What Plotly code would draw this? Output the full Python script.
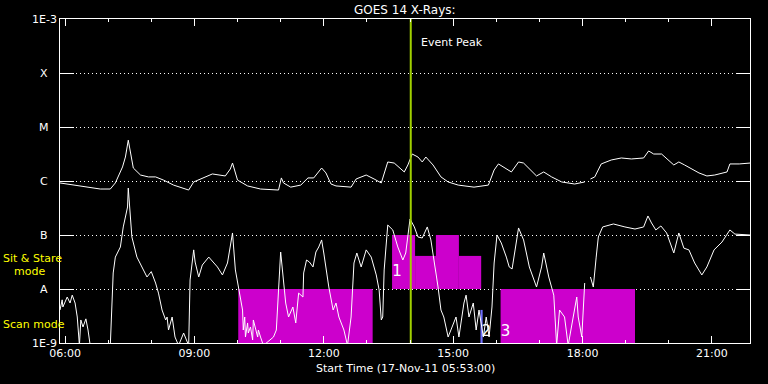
import math
import plotly.graph_objects as go

DAY = "2011-11-17 "

# GOES long channel (1-8 A), W/m^2
long_time = ["05:53", "06:11", "06:49", "07:03", "07:10", "07:20", "07:24", "07:28", "07:31", "07:35",
             "07:45", "07:56", "08:06", "08:17", "08:31", "08:52", "08:59", "09:13", "09:25", "09:43",
             "09:50", "09:53", "10:00", "10:14", "10:32", "10:57", "11:01", "11:04", "11:14", "11:28",
             "11:38", "11:46", "11:52", "11:57", "12:03", "12:10", "12:17", "12:38", "12:45", "12:59",
             "13:10", "13:20", "13:29", "13:38", "13:52", "13:57", "14:03", "14:11", "14:17", "14:22",
             "14:32", "14:43", "14:53", "15:07", "15:29", "15:49", "15:57", "16:03", "16:21", "16:31",
             "16:38", "16:56", "17:06", "17:17", "17:31", "17:49", "18:03", None, "18:11", "18:17",
             "18:26", "18:40", "18:54", "19:08", "19:25", "19:32", "19:39", "19:50", "20:07", "20:14",
             "20:22", "20:42", "20:53", "21:04", "21:21", "21:25", "21:38", "21:53"]
long_flux = [9.2e-7, 8.4e-7, 7.1e-7, 7.1e-7, 9.2e-7, 1.82e-6, 2.78e-6, 5.7e-6, 3.3e-6, 1.74e-6,
             1.29e-6, 1.19e-6, 1.19e-6, 1.04e-6, 8.4e-7, 6.8e-7, 9.6e-7, 1.14e-6, 1.35e-6, 1.24e-6,
             1.67e-6, 2.15e-6, 1.04e-6, 8.1e-7, 7.1e-7, 6.8e-7, 1.14e-6, 9.2e-7, 7.7e-7, 8.4e-7,
             1.14e-6, 1.14e-6, 1.41e-6, 1.74e-6, 1.41e-6, 8.8e-7, 8.1e-7, 7.7e-7, 1.09e-6, 1.29e-6,
             1.09e-6, 9.2e-7, 2.25e-6, 2.15e-6, 1.47e-6, 1.98e-6, 3.16e-6, 2.78e-6, 2.25e-6, 2.78e-6,
             1.98e-6, 1.19e-6, 9.6e-7, 8.4e-7, 7.7e-7, 8.4e-7, 1.6e-6, 2.07e-6, 1.47e-6, 2.25e-6,
             2.15e-6, 1.24e-6, 1.47e-6, 1.19e-6, 9.6e-7, 8.8e-7, 9.6e-7, None, 1.09e-6, 1.19e-6,
             2.07e-6, 2.45e-6, 2.67e-6, 2.56e-6, 2.67e-6, 3.6e-6, 3.16e-6, 3.16e-6, 1.98e-6, 2.25e-6,
             1.98e-6, 1.41e-6, 1.24e-6, 1.29e-6, 1.47e-6, 2.07e-6, 2.07e-6, 2.15e-6]

# GOES short channel (0.5-4 A), W/m^2
short_time = ["05:53", "05:56", "05:57", "06:03", "06:07", "06:10", "06:14", "06:17", "06:20", "06:22",
              "06:25", "06:29", "06:32", "06:35", "07:03", "07:07", "07:10", "07:17", "07:21", "07:27",
              "07:28", "07:31", "07:33", "07:40", "07:49", "07:54", "08:00", "08:06", "08:10", "08:15",
              "08:20", "08:22", "08:24", "08:29", "08:33", "08:38", "08:45", "08:49", "08:52", "08:54",
              "08:59", "09:01", "09:06", "09:11", "09:20", "09:32", "09:39", "09:46", "09:53", "09:57",
              "10:01", "10:07", "10:08", "10:10", "10:11", "10:14", "10:15", "10:18", "10:21", "10:22",
              "10:28", "10:29", "10:32", "10:36", "10:50", "10:54", "11:00", "11:04", "11:07", "11:11",
              "11:17", "11:21", "11:25", "11:31", "11:32", "11:36", "11:40", "11:45", "11:49", "11:53",
              "11:57", "12:00", "12:07", "12:13", "12:17", "12:21", "12:28", "12:33", "12:38", "12:42",
              "12:46", "12:52", "12:59", "13:06", "13:13", "13:17", "13:20", "13:22", "13:24", "13:29",
              "13:36", "13:43", "13:50", "13:54", "14:00", "14:06", "14:11", "14:17", "14:24", "14:29",
              "14:33", "14:39", "14:43", "14:47", "14:53", "14:57", "15:04", "15:08", "15:15", "15:18",
              "15:22", "15:28", "15:32", "15:36", "15:42", "15:46", "15:50", "15:54", "15:57", "16:01",
              "16:07", "16:14", "16:18", "16:22", "16:28", "16:31", "16:38", "16:46", "16:56", "17:03",
              "17:06", "17:13", "17:20", "17:24", "17:28", "17:35", "17:40", "17:47", "17:52", "17:54",
              "17:59", "18:03", None, "18:11", "18:15", "18:19", "18:22", "18:28", "18:43", "18:59",
              "19:13", "19:25", "19:31", "19:36", "19:42", "19:49", "19:57", "20:07", "20:14", "20:21",
              "20:28", "20:36", "20:46", "20:53", "21:03", "21:14", "21:25", "21:32", "21:53"]
short_flux = [4.08e-9, 6.3e-9, 4.64e-9, 7.1e-9, 5.5e-9, 7.7e-9, 5.5e-9, 3.03e-9, 9e-10, 2.67e-9,
              1.98e-9, 2.8e-9, 1.74e-9, 9e-10, 9e-10, 1.98e-8, 3.9e-8, 6.0e-8, 1.41e-7, 3.3e-7,
              7.4e-7, 2.15e-7, 9.2e-8, 3.9e-8, 2.25e-8, 1.67e-8, 2.1e-8, 1.29e-8, 8.4e-9, 4.08e-9,
              2.67e-9, 3.03e-9, 1.74e-9, 3.03e-9, 1.29e-9, 9e-10, 1.53e-9, 1.14e-9, 9e-10, 1.47e-8,
              5.3e-8, 3.16e-8, 1.67e-8, 2.78e-8, 3.9e-8, 2.56e-8, 1.82e-8, 3.03e-8, 1.09e-7, 2.25e-8,
              1.09e-8, 4.08e-9, 1.74e-9, 3.03e-9, 1.29e-9, 2.35e-9, 1.53e-9, 1.98e-9, 1.14e-9, 2.67e-9,
              1.29e-9, 1.74e-9, 1.29e-9, 9e-10, 1.29e-9, 1.74e-9, 4.84e-8, 1.29e-8, 5.5e-9, 3.03e-9,
              4.64e-9, 2.35e-9, 8.4e-9, 7.1e-9, 1.98e-8, 3.44e-8, 3.16e-8, 2.56e-8, 4.84e-8, 6.0e-8,
              8.1e-8, 4.64e-8, 1.09e-8, 4.08e-9, 5.5e-9, 3.03e-9, 1.74e-9, 9e-10, 3.03e-9, 3.03e-8,
              4.64e-8, 2.56e-8, 5.3e-8, 3.9e-8, 1.82e-8, 9.6e-9, 2.67e-9, 3.03e-9, 2.25e-8, 1.53e-7,
              1.24e-7, 6.0e-8, 3.44e-8, 4.64e-8, 1.98e-7, 1.41e-7, 9.2e-8, 8.8e-8, 1.41e-7, 8.1e-8,
              3.9e-8, 1.09e-8, 4.08e-9, 3.03e-9, 1.29e-9, 1.74e-9, 3.03e-9, 1.29e-9, 5.5e-9, 7.7e-9,
              3.03e-9, 5.5e-9, 1.74e-9, 4.08e-9, 1.29e-9, 3.03e-9, 1.29e-9, 4.64e-9, 3.03e-8, 1.0e-7,
              7.1e-8, 3.9e-8, 2.56e-8, 2.35e-8, 7.1e-8, 1.35e-7, 8.1e-8, 2.56e-8, 1.09e-8, 2.56e-8,
              4.64e-8, 1.67e-8, 7.7e-9, 9e-10, 4.08e-9, 3.03e-9, 9e-10, 3.03e-9, 7.1e-9, 3.03e-9,
              1.29e-9, 1.29e-8, None, 1.67e-8, 1.09e-8, 3.9e-8, 9.2e-8, 1.41e-7, 1.6e-7, 1.41e-7,
              1.29e-7, 1.41e-7, 2.25e-7, 1.67e-7, 1.24e-7, 1.47e-7, 1.09e-7, 4.64e-8, 1.09e-7, 5.7e-8,
              5.3e-8, 3.03e-8, 1.82e-8, 2.56e-8, 5.3e-8, 7.4e-8, 1.24e-7, 1.04e-7, 1.0e-7]

# Observation blocks
scan_start = ["10:01", "16:06"]
scan_end = ["13:08", "19:13"]
scan_low = [1e-9, 1e-9]
scan_high = [1e-8, 1e-8]

sit_start = ["13:35", "14:07", "14:36", "15:08"]
sit_end = ["14:07", "14:36", "15:08", "15:39"]
sit_low = [1e-8, 1e-8, 1e-8, 1e-8]
sit_high = [1e-7, 4.1e-8, 1e-7, 4.1e-8]

blue_start = ["15:38"]
blue_end = ["15:41"]
blue_low = [1e-9]
blue_high = [4.1e-9]

block_label_text = ["1", "2", "3"]
block_label_time = ["13:42", "15:46", "16:13"]
block_label_flux = [2.0e-8, 1.6e-9, 1.6e-9]

peak_time = "14:01"

class_vals = [1e-9, 1e-8, 1e-7, 1e-6, 1e-5, 1e-4, 1e-3]
class_text = ["1E-9", "A", "B", "C", "M", "X", "1E-3"]

x_range = ["05:53", "21:53"]

MAGENTA = "#cc00cc"
FONT = "DejaVu Sans"


def ts(t):
    return None if t is None else DAY + t


fig = go.Figure()

def add_rects(starts, ends, lows, highs, color):
    for s, e, lo, hi in zip(starts, ends, lows, highs):
        fig.add_trace(go.Scatter(
            x=[ts(s), ts(e), ts(e), ts(s), ts(s)],
            y=[lo, lo, hi, hi, lo],
            mode="lines", fill="toself", fillcolor=color,
            line=dict(width=0, color=color), hoverinfo="skip", showlegend=False))

add_rects(scan_start, scan_end, scan_low, scan_high, MAGENTA)
add_rects(sit_start, sit_end, sit_low, sit_high, MAGENTA)
add_rects(blue_start, blue_end, blue_low, blue_high, "#6f6fff")

fig.add_trace(go.Scatter(x=[ts(t) for t in long_time], y=long_flux, mode="lines",
                         line=dict(color="white", width=1), connectgaps=False, showlegend=False))
fig.add_trace(go.Scatter(x=[ts(t) for t in short_time], y=short_flux, mode="lines",
                         line=dict(color="white", width=1), connectgaps=False, showlegend=False))

fig.add_trace(go.Scatter(x=[ts(t) for t in block_label_time], y=block_label_flux, mode="text",
                         text=block_label_text, textfont=dict(family=FONT, size=15, color="white"),
                         showlegend=False, cliponaxis=False))

fig.add_trace(go.Scatter(x=[ts(peak_time), ts(peak_time)], y=[class_vals[0], class_vals[-1]],
                         mode="lines", line=dict(color="#a0d000", width=2), showlegend=False))

annotations = []
for v, t in zip(class_vals, class_text):
    annotations.append(dict(xref="paper", x=0, xshift=-16, xanchor="center",
                            yref="y", y=math.log10(v), yanchor="middle",
                            text=t, showarrow=False, font=dict(family=FONT, size=11, color="white")))

annotations += [
    dict(xref="paper", x=0.5, yref="paper", y=1, yanchor="bottom", yshift=0,
         text="GOES 14 X-Rays:", showarrow=False, font=dict(family=FONT, size=12, color="white")),
    dict(xref="paper", x=0.5, yref="paper", y=0, yanchor="top", yshift=-17,
         text="Start Time (17-Nov-11 05:53:00)", showarrow=False,
         font=dict(family=FONT, size=11, color="white")),
    dict(xref="x", x=ts(peak_time), xanchor="left", xshift=8, yref="paper", y=0.926, yanchor="middle",
         text="Event Peak", showarrow=False, font=dict(family=FONT, size=11, color="white")),
    dict(xref="paper", x=0, xanchor="left", xshift=-59, yref="paper", y=(343 - 258) / 324,
         yanchor="middle", text="Sit &amp; Stare", showarrow=False,
         font=dict(family=FONT, size=11, color="#ffff00")),
    dict(xref="paper", x=0, xanchor="left", xshift=-48, yref="paper", y=(343 - 271) / 324,
         yanchor="middle", text="mode", showarrow=False,
         font=dict(family=FONT, size=11, color="#ffff00")),
    dict(xref="paper", x=0, xanchor="left", xshift=-59, yref="paper", y=(343 - 324) / 324,
         yanchor="middle", text="Scan mode", showarrow=False,
         font=dict(family=FONT, size=11, color="#ffff00")),
]

fig.update_layout(
    width=768, height=384,
    margin=dict(l=60, r=18, t=19, b=41, pad=0),
    paper_bgcolor="black", plot_bgcolor="black",
    showlegend=False,
    annotations=annotations,
    font=dict(family=FONT, size=11, color="white"),
)

fig.update_xaxes(
    type="date", range=[ts(x_range[0]), ts(x_range[1])],
    showgrid=False, zeroline=False,
    showline=True, linecolor="white", linewidth=1, mirror="ticks",
    ticks="inside", ticklen=7, tickcolor="white", tickwidth=1,
    tick0=ts("06:00"), dtick=3 * 3600 * 1000, tickformat="%H:%M",
    tickfont=dict(family=FONT, size=11, color="white"),
    minor=dict(dtick=3600 * 1000, tick0=ts("06:00"), ticks="inside", ticklen=3,
               tickcolor="white", showgrid=False),
)

fig.update_yaxes(
    type="log", range=[-9, -3],
    tickvals=class_vals, showticklabels=False,
    showgrid=True, gridcolor="white", gridwidth=1, griddash="1px,3px",
    zeroline=False,
    showline=True, linecolor="white", linewidth=1, mirror="ticks",
    ticks="inside", ticklen=14, tickcolor="white", tickwidth=1,
)

fig.write_html("out.html",
               config={"displayModeBar": False},
               post_script="document.body.style.margin='0';document.body.style.background='black';")
